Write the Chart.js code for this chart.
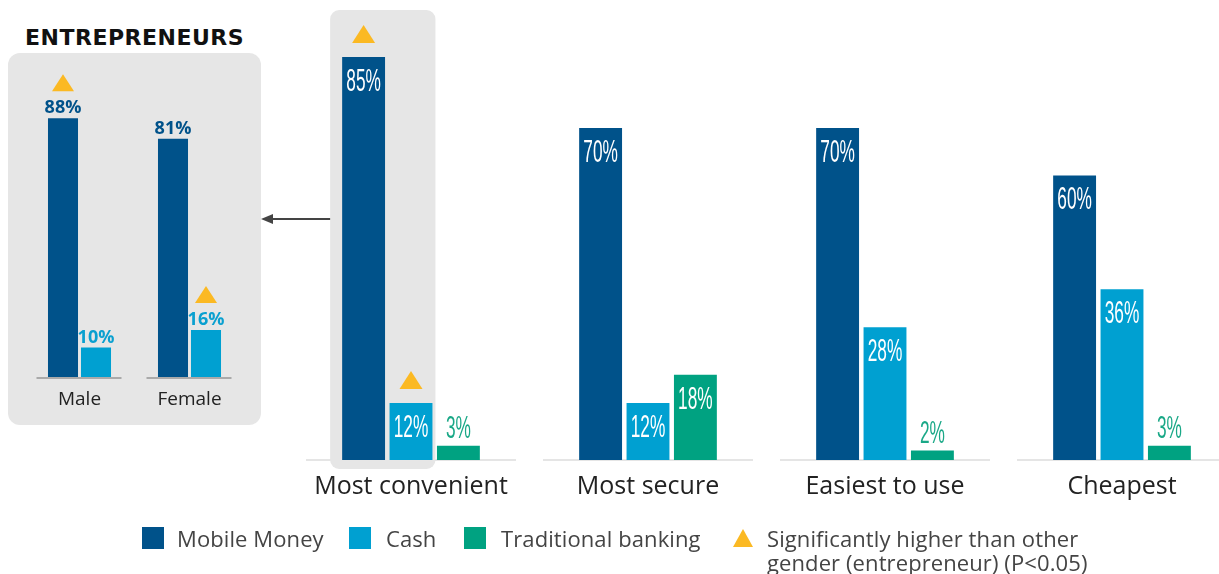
<!DOCTYPE html>
<html>
<head>
<meta charset="utf-8">
<script src="https://cdn.jsdelivr.net/npm/chart.js@4.4.0/dist/chart.umd.min.js"></script>
<style>
  html, body { margin: 0; padding: 0; background: #fff; overflow: hidden; }
  #page { position: relative; width: 1219px; height: 574px; overflow: hidden; font-family: 'Open Sans', sans-serif; }
  #insetBox { position: absolute; left: 8px; top: 53px; width: 253px; height: 372px; background: #e6e6e6; border-radius: 12px; }
  #title { position: absolute; left: 25px; top: 27px; font: bold 22px/22px 'DejaVu Sans', sans-serif; letter-spacing: 0.5px; color: #111; white-space: nowrap; }
  #insetWrap { position: absolute; left: 0; top: 0; width: 270px; height: 430px; }
  #mainWrap { position: absolute; left: 0; top: 0; width: 1260px; height: 574px; }
  .sw { position: absolute; top: 527px; width: 22px; height: 22px; }
  .tri { position: absolute; top: 529px; width: 0; height: 0; border-left: 10.5px solid transparent; border-right: 10.5px solid transparent; border-bottom: 18px solid #fbb923; }
  .lt { position: absolute; top: 526px; font-size: 22px; line-height: 24px; letter-spacing: 0.1px; color: #444; white-space: nowrap; }
</style>
</head>
<body>
<div id="page">
  <div id="insetBox"></div>
  <div id="title">ENTREPRENEURS</div>
  <div id="insetWrap"><canvas id="insetChart"></canvas></div>
  <div id="mainWrap"><canvas id="mainChart"></canvas></div>

  <div class="sw" style="left:142px;background:#00528a"></div>
  <div class="lt" style="left:177px">Mobile Money</div>
  <div class="sw" style="left:349px;background:#00a0d1"></div>
  <div class="lt" style="left:386px">Cash</div>
  <div class="sw" style="left:464px;background:#00a281"></div>
  <div class="lt" style="left:501px">Traditional banking</div>
  <div class="tri" style="left:733px"></div>
  <div class="lt" style="left:767px">Significantly higher than other<br>gender (entrepreneur) (P&lt;0.05)</div>
</div>

<script>
//main chart data
var categories = ["Most convenient", "Most secure", "Easiest to use", "Cheapest"];
var mobileMoney = [85, 70, 70, 60];
var cash = [12, 12, 28, 36];
var traditionalBanking = [3, 18, 2, 3];
// [series, category] pairs marked with a triangle
var mainSignificant = [[0, 0], [1, 0]];

//inset data (entrepreneurs, most convenient)
var genders = ["Male", "Female"];
var genderMobile = [88, 81];
var genderCash = [10, 16];
var insetSignificant = [[0, 0], [1, 1]];

var barColors = ["#00528a", "#00a0d1", "#00a281"];
var aboveLabelColors = ["#00528a", "#0aa0d0", "#1aa887"];
var triColor = "#fbb923";

function triangle(ctx, cx, bottom, w, h) {
  ctx.fillStyle = triColor;
  ctx.beginPath();
  ctx.moveTo(cx - w / 2, bottom);
  ctx.lineTo(cx + w / 2, bottom);
  ctx.lineTo(cx, bottom - h);
  ctx.closePath();
  ctx.fill();
}

var mainDecor = {
  id: "mainDecor",
  beforeDatasetsDraw: function (chart) {
    var ctx = chart.ctx, x = chart.scales.x, base = chart.chartArea.bottom;
    ctx.save();
    ctx.strokeStyle = "#dcdcdc";
    ctx.lineWidth = 1.5;
    categories.forEach(function (c, i) {
      var cx = x.getPixelForValue(i);
      ctx.beginPath();
      ctx.moveTo(cx - 105, base);
      ctx.lineTo(cx + 105, base);
      ctx.stroke();
    });
    // grey highlight behind the category shown in the inset
    var m = chart.getDatasetMeta(0).data[0], c = chart.getDatasetMeta(1).data[0];
    var left = m.x - m.width / 2 - 12, right = c.x + c.width / 2 + 3;
    ctx.fillStyle = "#e6e6e6";
    ctx.beginPath();
    ctx.roundRect(left, 10, right - left, base + 9 - 10, 9);
    ctx.fill();
    // arrow pointing at inset
    ctx.strokeStyle = "#444";
    ctx.fillStyle = "#444";
    ctx.lineWidth = 2;
    ctx.beginPath();
    ctx.moveTo(left, 219);
    ctx.lineTo(270, 219);
    ctx.stroke();
    ctx.beginPath();
    ctx.moveTo(261, 219);
    ctx.lineTo(273, 214);
    ctx.lineTo(273, 224);
    ctx.closePath();
    ctx.fill();
    ctx.restore();
  },
  afterDatasetsDraw: function (chart) {
    var ctx = chart.ctx;
    ctx.save();
    ctx.textAlign = "center";
    ctx.textBaseline = "alphabetic";
    ctx.font = "32px 'Liberation Sans', sans-serif";
    chart.data.datasets.forEach(function (ds, di) {
      var meta = chart.getDatasetMeta(di);
      ds.data.forEach(function (v, i) {
        var bar = meta.data[i];
        var y;
        if (v >= 10) {
          ctx.fillStyle = "#fff";
          y = bar.y + 34;
        } else {
          ctx.fillStyle = aboveLabelColors[di];
          y = bar.y - 8;
        }
        ctx.save();
        ctx.translate(bar.x, y);
        ctx.scale(0.54, 1);
        ctx.fillText(v + "%", 0, 0);
        ctx.restore();
      });
    });
    mainSignificant.forEach(function (p) {
      var bar = chart.getDatasetMeta(p[0]).data[p[1]];
      var v = chart.data.datasets[p[0]].data[p[1]];
      var bottom = v >= 10 ? bar.y - 14 : bar.y - 42;
      triangle(ctx, bar.x, bottom, 23, 18);
    });
    ctx.restore();
  }
};

var insetDecor = {
  id: "insetDecor",
  beforeDatasetsDraw: function (chart) {
    var ctx = chart.ctx, x = chart.scales.x, base = chart.chartArea.bottom;
    ctx.save();
    ctx.strokeStyle = "#aaaaaa";
    ctx.lineWidth = 2;
    genders.forEach(function (g, i) {
      var cx = x.getPixelForValue(i);
      ctx.beginPath();
      ctx.moveTo(cx - 43, base + 1);
      ctx.lineTo(cx + 42, base + 1);
      ctx.stroke();
    });
    ctx.restore();
  },
  afterDatasetsDraw: function (chart) {
    var ctx = chart.ctx;
    ctx.save();
    ctx.textAlign = "center";
    ctx.textBaseline = "alphabetic";
    ctx.font = "bold 18px 'Open Sans', sans-serif";
    chart.data.datasets.forEach(function (ds, di) {
      var meta = chart.getDatasetMeta(di);
      ctx.fillStyle = aboveLabelColors[di];
      ds.data.forEach(function (v, i) {
        var bar = meta.data[i];
        ctx.fillText(v + "%", bar.x, bar.y - 5);
      });
    });
    insetSignificant.forEach(function (p) {
      var bar = chart.getDatasetMeta(p[0]).data[p[1]];
      triangle(ctx, bar.x, bar.y - 27, 22, 17);
    });
    ctx.restore();
  }
};

new Chart("mainChart", {
  type: "bar",
  data: {
    labels: categories,
    datasets: [
      { label: "Mobile Money", data: mobileMoney, backgroundColor: barColors[0] },
      { label: "Cash", data: cash, backgroundColor: barColors[1] },
      { label: "Traditional banking", data: traditionalBanking, backgroundColor: barColors[2] }
    ]
  },
  options: {
    responsive: true,
    maintainAspectRatio: false,
    animation: false,
    layout: { padding: { left: 292.5, right: 19.5, top: 0, bottom: 0 } },
    datasets: { bar: { categoryPercentage: 0.6, barPercentage: 0.905 } },
    plugins: { legend: { display: false }, tooltip: { enabled: false } },
    scales: {
      x: {
        grid: { display: false, drawTicks: false },
        border: { display: false },
        ticks: { font: { family: "'Open Sans', sans-serif", size: 25 }, color: "#222", padding: 12 },
        afterFit: function (s) { s.height = 114; }
      },
      y: { display: false, min: 0, max: 97 }
    }
  },
  plugins: [mainDecor]
});

new Chart("insetChart", {
  type: "bar",
  data: {
    labels: genders,
    datasets: [
      { label: "Mobile Money", data: genderMobile, backgroundColor: barColors[0] },
      { label: "Cash", data: genderCash, backgroundColor: barColors[1] }
    ]
  },
  options: {
    responsive: true,
    maintainAspectRatio: false,
    animation: false,
    layout: { padding: { left: 24.5, right: 25.5, top: 83, bottom: 0 } },
    datasets: { bar: { categoryPercentage: 0.6, barPercentage: 0.91 } },
    plugins: { legend: { display: false }, tooltip: { enabled: false } },
    scales: {
      x: {
        grid: { display: false, drawTicks: false },
        border: { display: false },
        ticks: { font: { family: "'Open Sans', sans-serif", size: 19 }, color: "#222", padding: 11 },
        afterFit: function (s) { s.height = 53; }
      },
      y: { display: false, min: 0, max: 100 }
    }
  },
  plugins: [insetDecor]
});
</script>
</body>
</html>
